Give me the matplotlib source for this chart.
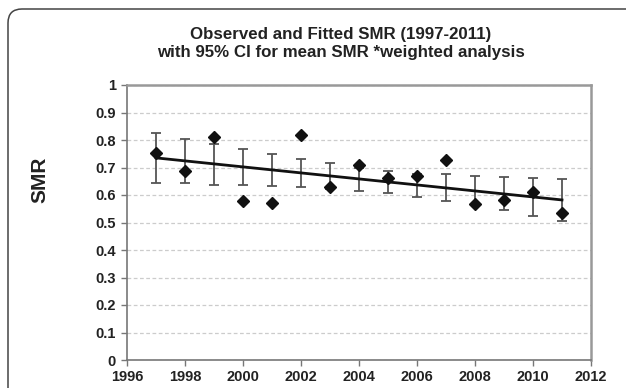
import matplotlib
matplotlib.use("Agg")
import matplotlib.pyplot as plt
from matplotlib.patches import FancyBboxPatch
from matplotlib.transforms import IdentityTransform

years = [1997, 1998, 1999, 2000, 2001, 2002, 2003, 2004, 2005, 2006, 2007, 2008, 2009, 2010, 2011]
observed = [0.752, 0.688, 0.811, 0.579, 0.570, 0.818, 0.630, 0.709, 0.661, 0.670, 0.727, 0.567, 0.582, 0.610, 0.536]
ci_lower = [0.643, 0.642, 0.638, 0.636, 0.633, 0.628, 0.622, 0.615, 0.606, 0.594, 0.579, 0.568, 0.545, 0.525, 0.507]
ci_upper = [0.824, 0.805, 0.785, 0.767, 0.749, 0.731, 0.718, 0.700, 0.688, 0.675, 0.675, 0.669, 0.664, 0.661, 0.658]
fit_years = [1997, 2011]
fit_values = [0.735, 0.582]
x_ticks = [1996, 1998, 2000, 2002, 2004, 2006, 2008, 2010, 2012]
y_ticks = [0, 0.1, 0.2, 0.3, 0.4, 0.5, 0.6, 0.7, 0.8, 0.9, 1]
y_tick_labels = ["0", "0.1", "0.2", "0.3", "0.4", "0.5", "0.6", "0.7", "0.8", "0.9", "1"]
title = "Observed and Fitted SMR (1997-2011)\nwith 95% CI for mean SMR *weighted analysis"
ylabel = "SMR"

plt.rcParams['font.family'] = ['Liberation Sans', 'DejaVu Sans']

W, H = 626, 388
fig = plt.figure(figsize=(W / 100, H / 100), dpi=100)
fig.patch.set_facecolor("white")

# outer rounded frame (pixel coordinates, origin bottom-left)
frame = FancyBboxPatch((8, -40), 640, (H - 9) + 40,
                       boxstyle="round,pad=0,rounding_size=14",
                       transform=IdentityTransform(), fill=False,
                       edgecolor="#444444", linewidth=1.1)
fig.patches.append(frame)

ax = fig.add_axes([127 / W, (H - 360) / H, (591 - 127) / W, (360 - 85) / H])

centers = [(l + u) / 2 for l, u in zip(ci_lower, ci_upper)]
yerr = [[c - l for c, l in zip(centers, ci_lower)], [u - c for c, u in zip(centers, ci_upper)]]
ax.errorbar(years, centers, yerr=yerr, fmt="none", ecolor="#555555",
            elinewidth=1.3, capsize=3.5, capthick=1.3, zorder=3)
ax.plot(fit_years, fit_values, color="#111111", linewidth=2.0, zorder=4)
ax.plot(years, observed, linestyle="none", marker="D", markersize=6,
        color="#111111", zorder=5)

ax.set_xlim(1996, 2012)
ax.set_ylim(0, 1)
ax.set_xticks(x_ticks)
ax.set_xticklabels([str(t) for t in x_ticks])
ax.set_yticks(y_ticks)
ax.set_yticklabels(y_tick_labels)
ax.grid(axis="y", linestyle=(0, (3, 2)), color="#cccccc", linewidth=0.9)
ax.set_axisbelow(True)

for lbl in ax.get_xticklabels() + ax.get_yticklabels():
    lbl.set_fontweight("bold")
    lbl.set_fontsize(10.5)
    lbl.set_color("#222222")

ax.tick_params(axis="both", direction="out", length=4, width=1, color="#777777", pad=3)
ax.tick_params(axis="y", pad=4)

for side in ["left", "bottom"]:
    ax.spines[side].set_color("#777777")
    ax.spines[side].set_linewidth(1.2)
for side in ["right", "top"]:
    ax.spines[side].set_color("#999999")
    ax.spines[side].set_linewidth(1.8)

fig.text(341 / W, 1 - 44 / H, title, ha="center", va="center",
         fontsize=12.2, fontweight="bold", color="#222222", linespacing=1.25)
fig.text(40 / W, 1 - 180 / H, ylabel, ha="center", va="center", rotation=90,
         fontsize=15, fontweight="bold", color="#222222")

fig.savefig("out.png", dpi=100, facecolor="white")
